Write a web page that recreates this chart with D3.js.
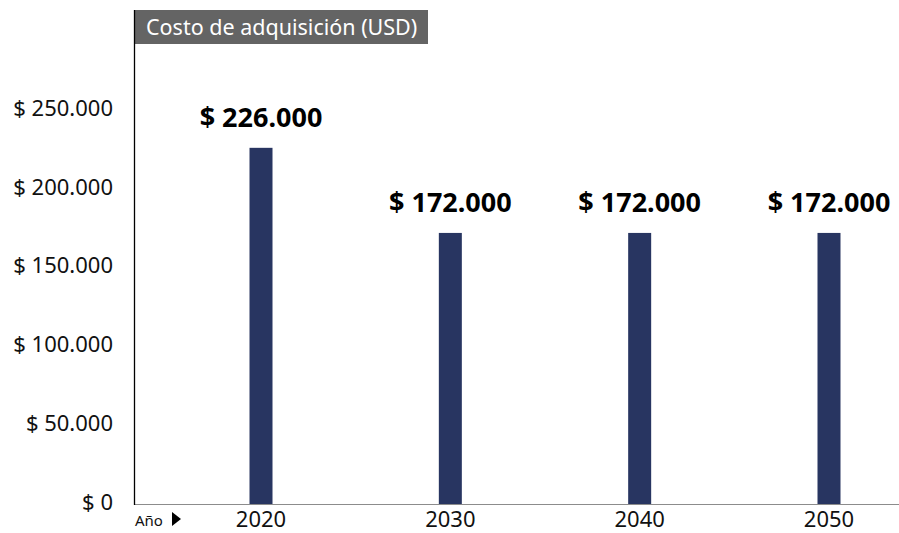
<!DOCTYPE html>
<html>
<head>
<meta charset="utf-8">
<script src="https://cdn.jsdelivr.net/npm/d3@7"></script>
<style>
  body { margin: 0; background: #fff; }
  text { font-family: "Noto Sans", "Open Sans", sans-serif; }
</style>
</head>
<body>
<div id="chart"></div>
<script>
// chart data
var years = ["2020", "2030", "2040", "2050"];
var costs = [226000, 172000, 172000, 172000];
var yTicks = [0, 50000, 100000, 150000, 200000, 250000];
var title = "Costo de adquisición (USD)";
var axisName = "Año";

var width = 899,
    height = 533,
    left = 134,
    baseline = 504,
    barW = 23;

var svg = d3.select("#chart").append("svg")
    .attr("width", width)
    .attr("height", height);

// scales
var x = d3.scalePoint()
    .domain(years)
    .range([261, 829]);

var y = d3.scaleLinear()
    .domain([0, 250000])
    .range([baseline, 110]);

// money format with dots for thousands
var fmt = function(v) {
    return "$ " + d3.format(",")(v).replace(/,/g, ".");
}

// title box
svg.append("rect")
    .attr("x", left)
    .attr("y", 10)
    .attr("width", 294)
    .attr("height", 34)
    .attr("fill", "#646464");

svg.append("text")
    .attr("x", 146)
    .attr("y", 35)
    .attr("font-size", 21.5)
    .attr("fill", "#fff")
    .text(title);

// axis lines
svg.append("line")
    .attr("x1", left).attr("x2", width)
    .attr("y1", baseline + 0.5).attr("y2", baseline + 0.5)
    .attr("stroke", "#8c8c8c")
    .attr("stroke-width", 1);

svg.append("line")
    .attr("x1", left + 0.5).attr("x2", left + 0.5)
    .attr("y1", 10).attr("y2", baseline + 1)
    .attr("stroke", "#000")
    .attr("stroke-width", 1.3);

// y tick labels
svg.selectAll(".ytick")
    .data(yTicks)
    .enter().append("text")
    .attr("class", "ytick")
    .attr("x", 113)
    .attr("y", function(d) { return y(d) - 2; })
    .attr("dy", "0.35em")
    .attr("text-anchor", "end")
    .attr("font-size", 22)
    .attr("fill", "#111")
    .text(fmt);

// bars
svg.selectAll(".bar")
    .data(costs)
    .enter().append("rect")
    .attr("class", "bar")
    .attr("x", function(d, i) { return x(years[i]) - barW / 2; })
    .attr("y", function(d) { return y(d); })
    .attr("width", barW)
    .attr("height", function(d) { return baseline - y(d); })
    .attr("fill", "#283561");

// value labels
svg.selectAll(".val")
    .data(costs)
    .enter().append("text")
    .attr("class", "val")
    .attr("x", function(d, i) { return x(years[i]); })
    .attr("y", function(d) { return y(d) - 21; })
    .attr("text-anchor", "middle")
    .attr("font-size", 27)
    .attr("font-weight", "bold")
    .attr("fill", "#000")
    .text(fmt);

// x labels
svg.selectAll(".xlab")
    .data(years)
    .enter().append("text")
    .attr("class", "xlab")
    .attr("x", function(d) { return x(d); })
    .attr("y", 527)
    .attr("text-anchor", "middle")
    .attr("font-size", 22)
    .attr("fill", "#111")
    .text(function(d) { return d; });

svg.append("text")
    .attr("x", 135)
    .attr("y", 526)
    .attr("font-size", 15)
    .attr("fill", "#111")
    .text(axisName);

svg.append("path")
    .attr("d", "M172,512 L181,519 L172,526 Z")
    .attr("fill", "#000");
</script>
</body>
</html>
